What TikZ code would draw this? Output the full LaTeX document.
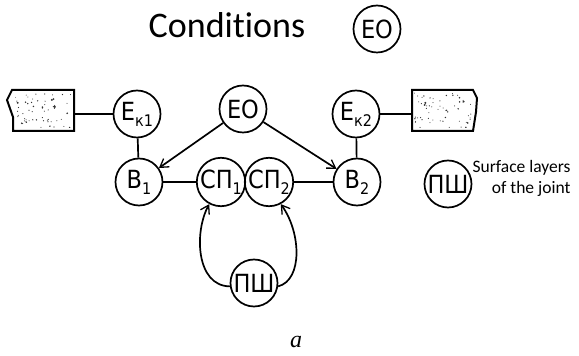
\documentclass[tikz,border=0pt]{standalone}
\usepackage{fontspec}
\setmainfont{Carlito}[Ligatures=NoCommon]
\newfontfamily\nodefont{DejaVu Sans Condensed}
\newfontfamily\capfont{Liberation Serif}
\usetikzlibrary{arrows.meta}

% lowered, smaller index inside a state circle
\newcommand\lowsub[1]{\raisebox{-6pt}{\fontsize{16}{16}\selectfont #1}}

\tikzset{
  state/.style={circle, draw, line width=1.7pt, minimum size=47pt, inner sep=0pt,
    font=\nodefont\fontsize{25}{25}\selectfont},
  link/.style={line width=1.7pt},
  flow/.style={line width=1.7pt, -{Straight Barb[length=8pt,width=10pt,line width=1.3pt]}},
  block/.style={line width=2pt, fill=white},
  grain/.style={fill=black!80},
}

\begin{document}
\begin{tikzpicture}[x=1pt,y=1pt]
  \useasboundingbox (0,0) rectangle (579,356);

  % heading
  \node[anchor=base, font=\fontsize{36}{36}\selectfont] (title) at (227,318) {Conditions};
  \node[state] (EOkey) at (377,327) {ЕО};

  % concrete blocks with broken edges
  \draw[block] (12,266) -- (74,266) -- (74,225) -- (13,225) -- (13,239) -- (7,256) -- cycle;
  \draw[block] (412,266) -- (473,266) -- (477,258) -- (476,244) -- (473,225) -- (412,225) -- cycle;
  \pgfmathsetseed{11}
  \begin{scope}
    \clip (15,263) rectangle (72,228);
    \foreach \i in {1,...,60}{
      \pgfmathsetmacro\px{15+57*rnd}
      \pgfmathsetmacro\py{228+35*rnd}
      \pgfmathsetmacro\pr{0.5+1.3*rnd*rnd*rnd}
      \fill[grain] (\px,\py) circle (\pr);
    }
  \end{scope}
  \begin{scope}
    \clip (414,263) rectangle (471,228);
    \foreach \i in {1,...,60}{
      \pgfmathsetmacro\px{414+57*rnd}
      \pgfmathsetmacro\py{228+35*rnd}
      \pgfmathsetmacro\pr{0.5+1.3*rnd*rnd*rnd}
      \fill[grain] (\px,\py) circle (\pr);
    }
  \end{scope}
  \coordinate (blockL) at (74,242);
  \coordinate (blockR) at (412,242);

  % states
  \node[state] (Ek1) at (137,242) {Е\lowsub{к1}};
  \node[state] (EO)  at (243,247) {ЕО};
  \node[state] (Ek2) at (356,242) {Е\lowsub{к2}};
  \node[state] (B1)  at (139,174) {В\lowsub{1}};
  \node[state] (SP1) at (221,174) {СП\lowsub{1}};
  \node[state] (SP2) at (269,174) {СП\lowsub{2}};
  \node[state] (B2)  at (357,174) {В\lowsub{2}};
  \node[state] (PSh) at (254,73)  {ПШ};

  % legend
  \node[state] (PShkey) at (448,172) {ПШ};
  \node[anchor=base east, font=\fontsize{17.5}{17.5}\selectfont] (key1) at (574,183) {Surface layers};
  \node[anchor=base east, font=\fontsize{17.5}{17.5}\selectfont] (key2) at (574,162) {of the joint};

  % connections
  \draw[link] (blockL) -- (Ek1);
  \draw[link] (Ek2) -- (blockR);
  \draw[link] (Ek1) -- (B1);
  \draw[link] (Ek2) -- (B2);
  \draw[link] (B1) -- (SP1);
  \draw[link] (SP2) -- (B2);
  \draw[flow] (EO) -- (B1);
  \draw[flow] (EO) -- (B2);
  % loops from the surface layers back up to the joint states
  \draw[flow] (PSh.188) .. controls (196,70) and (194,124) .. (SP1.-118);
  \draw[flow] (PSh.-8) .. controls (303,76) and (301,124) .. (SP2.-62);

  % caption
  \node[anchor=base, font=\capfont\itshape\fontsize{24}{24}\selectfont] (cap) at (296,8) {a};
\end{tikzpicture}
\end{document}
